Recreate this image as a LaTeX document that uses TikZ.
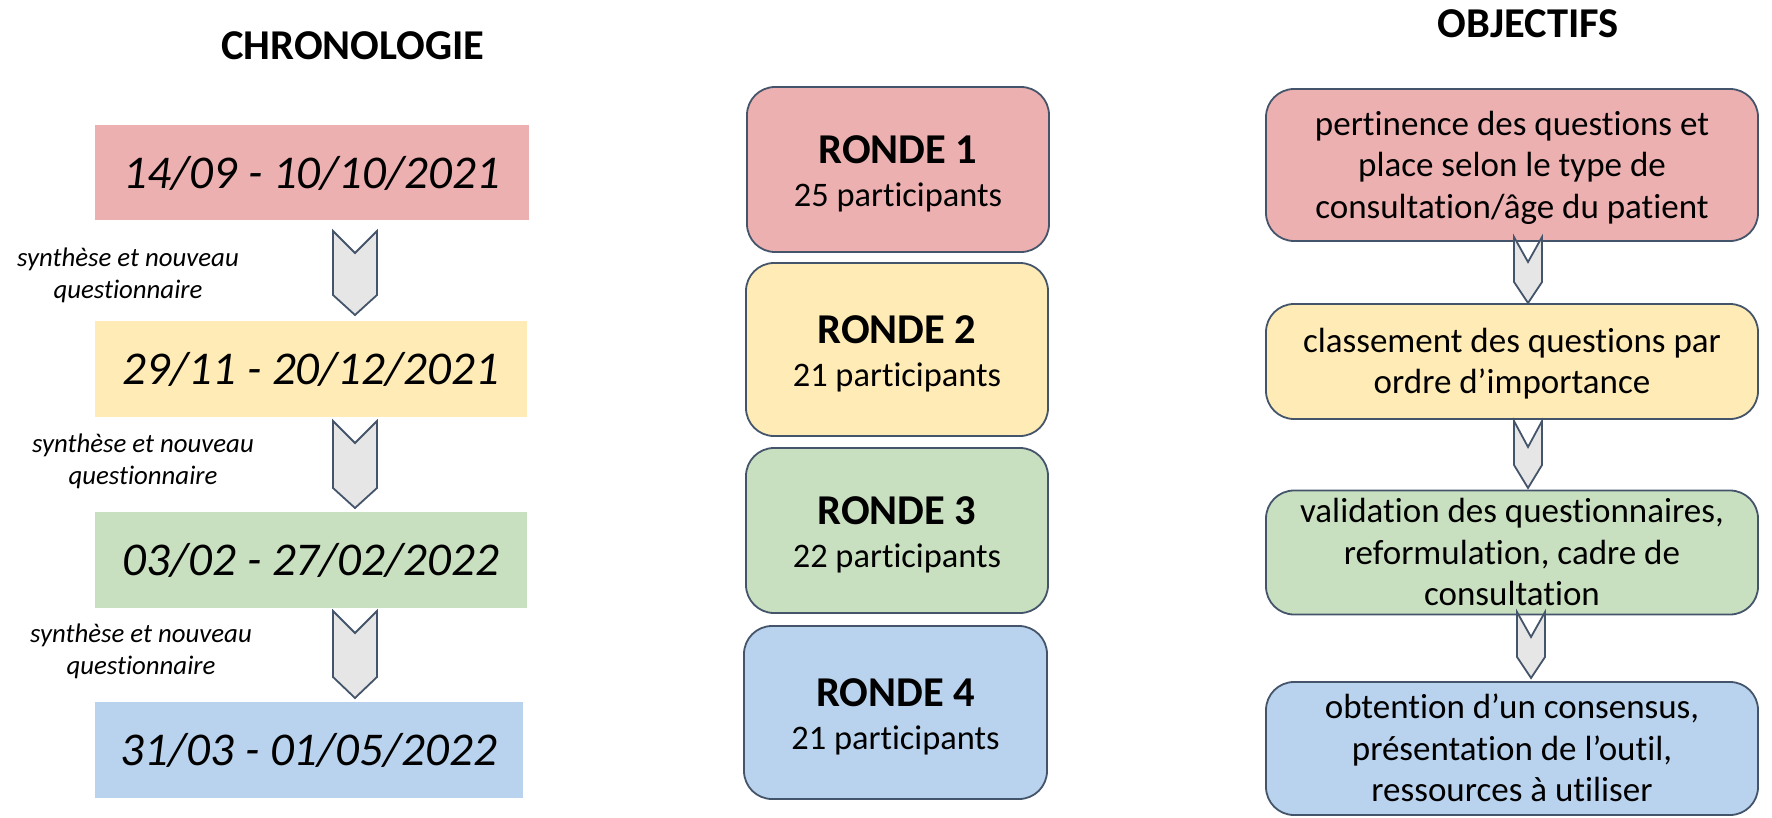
\documentclass[tikz,border=0pt]{standalone}
\usepackage{fontspec}
\setmainfont{Carlito}[Ligatures={NoCommon}]
\usetikzlibrary{calc}
\definecolor{cred}{HTML}{EDB0B1}
\definecolor{cyel}{HTML}{FFEBB6}
\definecolor{cgrn}{HTML}{C9E0C0}
\definecolor{cblu}{HTML}{B9D3EE}
\definecolor{cline}{HTML}{44546A}
\definecolor{cchev}{HTML}{E6E6E6}
\newcommand\hstrut{\rule{0pt}{40pt}}
\newcommand\dstrut{\rule[-9pt]{0pt}{9pt}}
\newcommand\ostrut{\rule{0pt}{32pt}}
\newcommand\lstrut{\rule{0pt}{24pt}}
\newcommand\mstrut{\rule[-8pt]{0pt}{8pt}}
\newcommand\chevshape[6]{%
  \draw[chev] ({#1-#6},#2) -- (#1,#3) -- ({#1+#6},#2) -- ({#1+#6},#4) -- (#1,#5) -- ({#1-#6},#4) -- cycle;}
\begin{document}
\begin{tikzpicture}[x=1pt,y=-1pt,
  title/.style={anchor=base,font=\fontsize{42.5}{50}\selectfont\bfseries},
  datebox/.style={rectangle,inner sep=0pt,font=\fontsize{47}{54}\selectfont\itshape},
  rondebox/.style={rectangle,rounded corners=28pt,draw=cline,line width=1.8pt,inner sep=0pt,align=center,font=\fontsize{34.4}{43.5}\selectfont},
  objbox/.style={rectangle,rounded corners=28pt,draw=cline,line width=1.8pt,inner sep=0pt,align=center,minimum width=492pt,font=\fontsize{35}{41.5}\selectfont},
  synlabel/.style={align=center,inner sep=0pt,font=\fontsize{26.8}{32}\selectfont\itshape},
  chev/.style={fill=cchev,draw=cline,line width=1.8pt,line join=miter}]
\useasboundingbox (0,0) rectangle (1772,817);

% titles
\node[title] (tchrono) at (353,59) {CHRONOLOGIE};
\node[title] (tobj) at (1528,37) {OBJECTIFS};

% date boxes
\node[datebox,fill=cred,minimum width=434pt,minimum height=95pt] (d1) at (312,172.5) {\hstrut 14/09 - 10/10/2021\dstrut};
\node[datebox,fill=cyel,minimum width=432pt,minimum height=96pt] (d2) at (311,369) {\hstrut 29/11 - 20/12/2021\dstrut};
\node[datebox,fill=cgrn,minimum width=432pt,minimum height=96pt] (d3) at (311,560) {\hstrut 03/02 - 27/02/2022\dstrut};
\node[datebox,fill=cblu,minimum width=428pt,minimum height=96pt] (d4) at (309,750) {\hstrut 31/03 - 01/05/2022\dstrut};

% labels
\node[synlabel] (s1) at (128,274) {\lstrut synthèse et nouveau\\questionnaire\mstrut};
\node[synlabel] (s2) at (143,460) {\lstrut synthèse et nouveau\\questionnaire\mstrut};
\node[synlabel] (s3) at (141,650) {\lstrut synthèse et nouveau\\questionnaire\mstrut};

% rounds
\node[rondebox,fill=cred,minimum width=302pt,minimum height=165pt] (r1) at (898,169.5)
  {\hstrut{\fontsize{42.5}{43.5}\selectfont\bfseries RONDE 1}\\25 participants\dstrut};
\node[rondebox,fill=cyel,minimum width=302pt,minimum height=173pt] (r2) at (897,349.5)
  {\hstrut{\fontsize{42.5}{43.5}\selectfont\bfseries RONDE 2}\\21 participants\dstrut};
\node[rondebox,fill=cgrn,minimum width=302pt,minimum height=165pt] (r3) at (897,530.5)
  {\hstrut{\fontsize{42.5}{43.5}\selectfont\bfseries RONDE 3}\\22 participants\dstrut};
\node[rondebox,fill=cblu,minimum width=303pt,minimum height=173pt] (r4) at (895.5,712.5)
  {\hstrut{\fontsize{42.5}{43.5}\selectfont\bfseries RONDE 4}\\21 participants\dstrut};

% objectives
\node[objbox,fill=cred,minimum height=152pt] (o1) at (1512,165)
  {\ostrut pertinence des questions et\\place selon le type de\\consultation/âge du patient\dstrut};
\node[objbox,fill=cyel,minimum height=115pt] (o2) at (1512,361.5)
  {\ostrut classement des questions par\\ordre d’importance\dstrut};
\node[objbox,fill=cgrn,minimum height=117pt] (o3) at (1512,552.5)
  {\ostrut validation des questionnaires,\\reformulation, cadre de\\consultation\dstrut};
\node[objbox,fill=cblu,minimum height=133pt] (o4) at (1512,748.5)
  {\ostrut obtention d’un consensus,\\présentation de l’outil,\\ressources à utiliser\dstrut};

% chevrons (left)
\chevshape{355}{231}{253}{295}{315}{22}
\chevshape{355}{421}{443}{488}{508}{22}
\chevshape{355}{611}{633}{677}{698}{22}
% chevrons (right)
\chevshape{1528}{237}{262}{282}{303}{14}
\chevshape{1528}{421}{447}{465}{488}{14}
\chevshape{1531}{612}{637}{657}{678}{14}
\end{tikzpicture}
\end{document}
